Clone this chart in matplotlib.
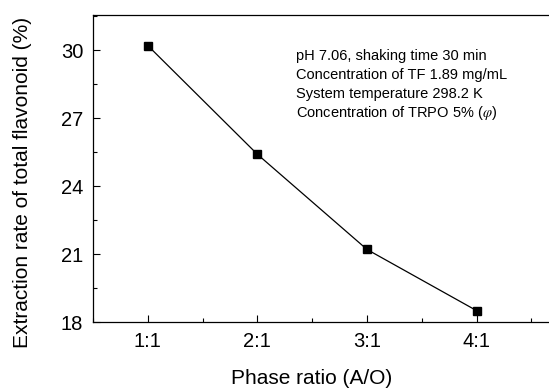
import matplotlib
matplotlib.use("Agg")
import matplotlib.pyplot as plt
from matplotlib.ticker import MultipleLocator

plt.rcParams['font.family'] = ['Liberation Sans', 'DejaVu Sans']
plt.rcParams['mathtext.fontset'] = 'stix'

# data
ratios = ['1:1', '2:1', '3:1', '4:1']
extraction = [30.2, 25.4, 21.2, 18.5]
notes = ['pH 7.06, shaking time 30 min',
         'Concentration of TF 1.89 mg/mL',
         'System temperature 298.2 K',
         r'Concentration of TRPO 5% ($\varphi$)']

fig = plt.figure(figsize=(5.49, 3.89), dpi=100)
# axes run past the right edge, as in the cropped original
ax = fig.add_axes([93 / 549, 1 - 322 / 389, 490 / 549, 307 / 389])

x = list(range(1, len(ratios) + 1))
ax.plot(x, extraction, '-', color='black', linewidth=0.9,
        marker='s', markersize=6, markerfacecolor='black')

ax.set_xlim(0.5, 4.97)
ax.set_ylim(18, 31.55)
ax.set_xticks(x)
ax.set_xticklabels(ratios)
ax.xaxis.set_minor_locator(MultipleLocator(0.5))
ax.yaxis.set_major_locator(MultipleLocator(3))
ax.yaxis.set_minor_locator(MultipleLocator(1.5))
ax.tick_params(which='both', direction='in', labelsize=14.5, width=0.8)
ax.tick_params(which='major', length=5)
ax.tick_params(which='minor', length=3)
ax.tick_params(axis='x', pad=7)
ax.tick_params(axis='y', pad=7)
ax.spines['right'].set_visible(False)
for s in ['left', 'top', 'bottom']:
    ax.spines[s].set_linewidth(0.9)

ax.set_xlabel('Phase ratio (A/O)', fontsize=15)
ax.xaxis.set_label_coords((312 - 93) / 490, -(369 - 322) / 307)
fig.text(23 / 549, 1 - 182 / 389, 'Extraction rate of total flavonoid (%)',
         rotation=90, fontsize=15, ha='center', va='center')

# one text per line so the spacing stays even
for i, line in enumerate(notes):
    fig.text(296 / 549, 1 - (60 + 19 * i) / 389, line, fontsize=10.5,
             ha='left', va='baseline')

fig.savefig('out.png', dpi=100)
